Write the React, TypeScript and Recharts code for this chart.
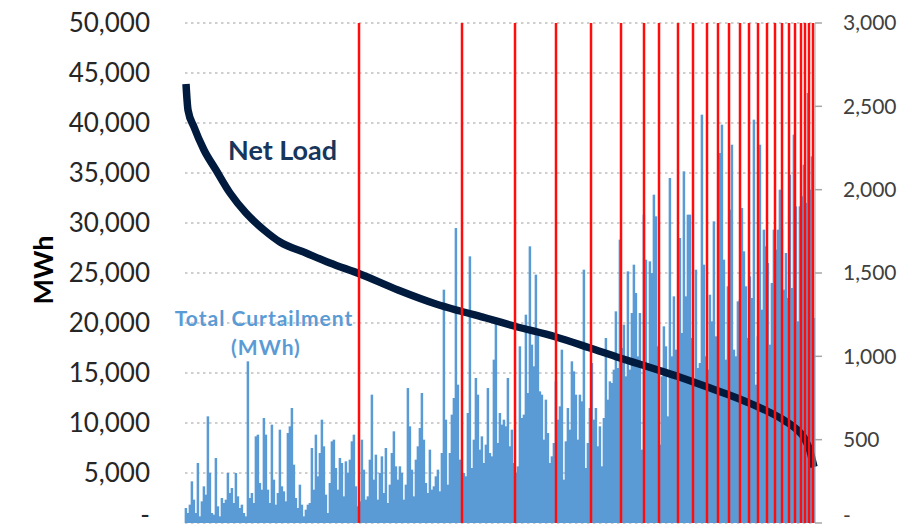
import React from 'react';
import { ComposedChart, Bar, Line, XAxis, YAxis, CartesianGrid, ReferenceLine } from 'recharts';

// curtailment per period (right axis, MWh), sorted by net load
const curtailmentMWh = [
  90, 60, 110, 250, 140, 60, 360, 40, 130, 220, 170, 640, 300, 60, 50, 390, 100, 40, 150, 120,
  140, 300, 180, 210, 120, 300, 160, 90, 110, 60, 40, 970, 150, 180, 120, 520, 530, 240, 200, 630,
  530, 200, 120, 590, 260, 110, 180, 560, 220, 190, 130, 540, 580, 690, 350, 150, 90, 230, 110, 40,
  80, 110, 120,
  450, 200, 530, 280, 420, 620, 460, 170, 60, 240, 490, 500, 330, 200, 390, 360, 160, 370, 300, 380,
  490, 530, 220, 100, 130, 500, 320, 140, 160, 380, 770, 260, 410, 140, 300, 400, 180, 450, 120, 230,
  420, 550, 340, 260, 340, 300, 140, 230, 810, 580, 320, 160, 380, 460, 570, 780, 500, 240, 180, 440,
  200, 220, 280,
  320, 190, 420, 1400, 620, 230, 420, 650, 750, 1770, 830, 380, 300, 300, 280, 660, 1600, 330, 500, 870,
  770, 440, 520, 360, 470, 810, 420, 400, 980, 1200, 480, 660, 590, 620, 580, 870, 460, 560, 360, 300,
  340, 1060, 630, 650, 1250, 780, 1660, 1070, 940, 1490, 1130, 790, 770, 500, 740, 540, 360, 400, 480, 850,
  620, 700, 1040,
  260, 490, 690, 560, 970, 910, 770, 500, 770, 730, 1520, 330, 480, 690, 960, 620, 690, 460, 580, 340,
  630, 1110, 740, 850, 840, 920, 1270, 930, 1700, 1050, 1190, 880, 1510, 920, 1260, 1550, 1380, 1000, 1260, 440,
  1850, 1580, 960, 1570, 1500, 1970, 1840, 1060, 470, 880, 1180, 1060, 640, 2070, 1000, 1360, 1040, 760, 1710, 1140,
  2110, 1360, 1850,
  1850, 1110, 860, 1520, 930, 960, 2450, 1550, 1000, 920, 1370, 1210, 1810, 1120, 970, 2220, 2390, 1580, 980, 1420,
  1880, 2270, 1040, 1000, 1330, 1340, 1890, 1630, 1420, 1110, 1480, 1350, 2420, 830, 1120, 2270, 1280, 1760, 1660, 1560,
  1070, 1440, 1760, 1640, 1760, 2000, 1760, 1400, 1620, 1350, 2090, 1410, 2330, 1900, 1210, 1900, 1960, 2150, 1920, 2580,
  2000, 2200, 1230,
];

// net load duration curve (left axis), read at these positions
const netLoadIdx = [0, 1, 4, 9, 15, 22, 30, 39, 47, 60, 72, 87, 106, 125, 137, 150, 164, 185, 202, 217,
  229, 236, 246, 251, 260, 271, 281, 290, 298, 303, 306, 309, 310, 312, 313, 314];
const netLoadMWh = [43900, 41300, 39600, 37300, 35300, 33000, 31000, 29300, 28100, 27000, 26000, 24900,
  23300, 21900, 21200, 20500, 19700, 18600, 17500, 16500, 15750, 15300, 14650, 14300, 13650, 12850,
  12050, 11250, 10400, 9750, 9250, 8550, 8150, 7200, 6400, 5600];

// red markers
const redLineIdx = [86.5, 138, 164.5, 185, 202.5, 217.5, 229, 236.5, 246, 253.5, 260.5, 266, 271.5, 277,
  281.5, 286, 290.5, 294.5, 298, 301.5, 304.5, 307.5, 309.5, 311.5, 313.5];

const leftTicks = [0, 5000, 10000, 15000, 20000, 25000, 30000, 35000, 40000, 45000, 50000];
const rightTicks = [0, 500, 1000, 1500, 2000, 2500, 3000];

const FONT = 'Lato, "Open Sans", sans-serif';
const BAR_BLUE = '#5b9bd5';

const fmt = (v: number) => (v === 0 ? '-' : v.toLocaleString('en-US'));

const data = curtailmentMWh.map((c, i) => {
  const k = netLoadIdx.indexOf(i);
  return { idx: i, curtailment: c, netLoad: k >= 0 ? netLoadMWh[k] : null };
});

// tick label; the "-" for zero sits a little higher so it stays inside the frame
const makeTick = (anchor: 'start' | 'end', size: number, color: string) => (props: any) => {
  const { x, y, payload } = props;
  const zero = payload.value === 0;
  return (
    <text
      x={x}
      y={y}
      dy={zero ? '0.02em' : '0.355em'}
      textAnchor={anchor}
      fontFamily={FONT}
      fontSize={size}
      fill={color}
    >
      {fmt(payload.value)}
    </text>
  );
};

const LeftTick = makeTick('end', 26, '#262626');
const RightTick = makeTick('start', 21, '#404040');

// bars drawn slightly wider than their slot so neighbours touch
const ThinBar = (props: any) => {
  const { x, y, width, height } = props;
  if (!height || height <= 0) return null;
  const cx = x + width / 2;
  return <rect x={cx - 1.25} y={y} width={2.5} height={height} fill={BAR_BLUE} />;
};

export default function App() {
  return (
    <div style={{ position: 'absolute', left: 0, top: 0, width: 920, height: 529, background: '#fff' }}>
      <ComposedChart width={920} height={529} data={data} margin={{ top: 23, right: 0, bottom: 6, left: 0 }}>
        <CartesianGrid yAxisId="left" vertical={false} stroke="#bfbfbf" strokeWidth={1.5} strokeDasharray="2.5 3.5" />
        <XAxis dataKey="idx" type="number" domain={[-0.5, 314.5]} hide />
        <YAxis
          yAxisId="left"
          domain={[0, 50000]}
          ticks={leftTicks}
          interval={0}
          width={185}
          axisLine={false}
          tickLine={false}
          tickMargin={29}
          tick={LeftTick}
        />
        <YAxis
          yAxisId="right"
          orientation="right"
          domain={[0, 3000]}
          ticks={rightTicks}
          interval={0}
          width={105}
          axisLine={{ stroke: '#a6a6a6' }}
          tickLine={{ stroke: '#a6a6a6', strokeWidth: 1.5 }}
          tickSize={7}
          tickMargin={21}
          tick={RightTick}
        />
        <Bar
          yAxisId="right"
          dataKey="curtailment"
          fill={BAR_BLUE}
          barSize={2}
          shape={ThinBar}
          isAnimationActive={false}
        />
        <Line
          yAxisId="left"
          type="monotone"
          dataKey="netLoad"
          stroke="#001b3e"
          strokeWidth={7.5}
          dot={false}
          connectNulls
          isAnimationActive={false}
        />
        {redLineIdx.map((x) => (
          <ReferenceLine key={x} x={x} yAxisId="left" stroke="#ff0d0d" strokeWidth={2.5} />
        ))}
      </ComposedChart>
      <svg width={920} height={529} style={{ position: 'absolute', left: 0, top: 0, pointerEvents: 'none' }}>
        <text
          x={42}
          y={270}
          transform="rotate(-90, 42, 270)"
          textAnchor="middle"
          dominantBaseline="central"
          fontFamily={FONT}
          fontWeight={700}
          fontSize={27}
          fill="#000"
        >
          MWh
        </text>
        <text x={228} y={160} fontFamily={FONT} fontWeight={700} fontSize={27} fill="#17365d">
          Net Load
        </text>
        <text x={264} y={326} textAnchor="middle" fontFamily={FONT} fontWeight={700} fontSize={21} letterSpacing={1} fill={BAR_BLUE}>
          Total Curtailment
        </text>
        <text x={266} y={355} textAnchor="middle" fontFamily={FONT} fontWeight={700} fontSize={21} letterSpacing={1} fill={BAR_BLUE}>
          (MWh)
        </text>
      </svg>
    </div>
  );
}
